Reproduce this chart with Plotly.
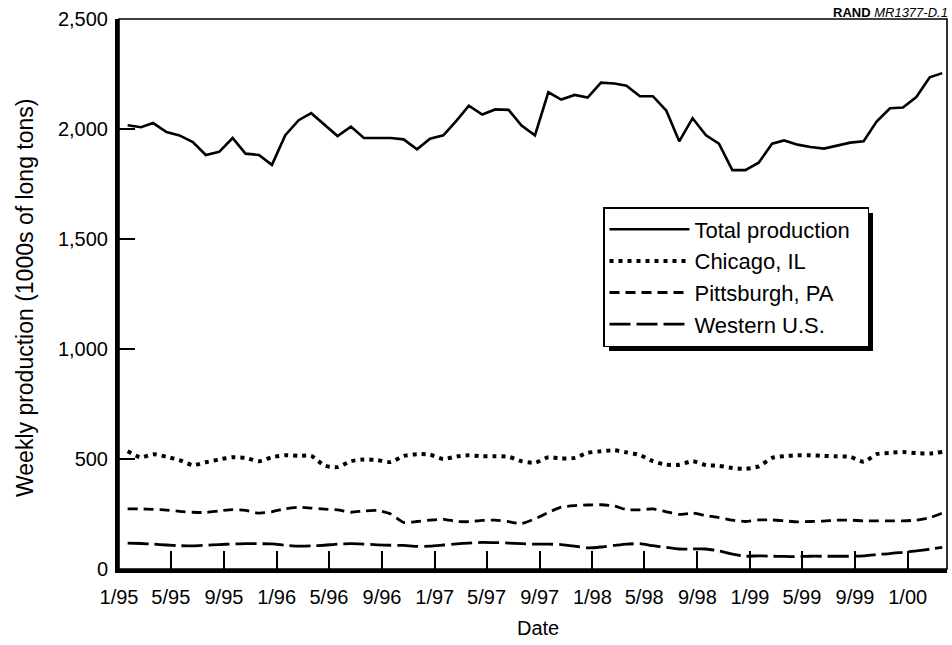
import plotly.graph_objects as go

# ---- data (weekly production, 1000s of long tons), monthly readings 1/95 .. 3/00
months = [f"{1995 + i // 12}-{i % 12 + 1:02d}-21" for i in range(63)]

total_production = [2017, 2008, 2027, 1986, 1971, 1941, 1882, 1896, 1959, 1888,
                    1882, 1837, 1972, 2040, 2072, 2020, 1968, 2011, 1959, 1959,
                    1959, 1953, 1908, 1956, 1971, 2039, 2106, 2066, 2089, 2087,
                    2016, 1971, 2167, 2134, 2155, 2143, 2211, 2207, 2197, 2149,
                    2149, 2084, 1944, 2049, 1971, 1933, 1813, 1813, 1847, 1933,
                    1948, 1929, 1918, 1911, 1923, 1938, 1944, 2034, 2094, 2098,
                    2145, 2235, 2254]

chicago = [535, 507, 522, 510, 495, 472, 485, 498, 508, 505,
           490, 508, 517, 514, 514, 470, 463, 490, 498, 495,
           486, 514, 522, 520, 500, 512, 517, 512, 513, 510,
           490, 483, 508, 502, 505, 528, 535, 540, 530, 518,
           490, 474, 474, 490, 472, 469, 459, 455, 466, 505,
           513, 517, 517, 514, 512, 510, 487, 522, 528, 532,
           527, 525, 532]

pittsburgh = [273, 273, 271, 268, 262, 258, 257, 264, 270, 266,
              254, 260, 274, 281, 277, 272, 269, 258, 264, 266,
              250, 212, 216, 222, 226, 216, 215, 221, 222, 215,
              207, 228, 257, 281, 288, 291, 292, 286, 270, 269,
              273, 260, 248, 254, 243, 234, 222, 216, 223, 223,
              219, 214, 216, 218, 222, 222, 219, 219, 219, 219,
              222, 233, 254]

western = [118, 116, 113, 109, 106, 105, 108, 111, 114, 115,
           115, 114, 108, 104, 105, 108, 113, 115, 113, 110,
           108, 107, 103, 104, 109, 114, 118, 121, 120, 118,
           115, 113, 113, 111, 104, 96, 100, 107, 113, 115,
           106, 98, 91, 91, 91, 82, 68, 58, 60, 58,
           57, 56, 58, 58, 58, 58, 60, 66, 70, 76,
           82, 90, 98]

y_ticks = [0, 500, 1000, 1500, 2000, 2500]
y_tick_labels = ["0", "500", "1,000", "1,500", "2,000", "2,500"]

FONT = "Liberation Sans, Arial, Helvetica, sans-serif"
NB = "\u00a0"

fig = go.Figure()
fig.add_trace(go.Scatter(x=months, y=total_production, name="Total production" + NB * 2,
                         mode="lines", line=dict(color="black", width=2.6)))
fig.add_trace(go.Scatter(x=months, y=chicago, name="Chicago, IL", mode="lines",
                         line=dict(color="black", width=4, dash="4px,5px", shape="spline", smoothing=0.6)))
fig.add_trace(go.Scatter(x=months, y=pittsburgh, name="Pittsburgh, PA", mode="lines",
                         line=dict(color="black", width=2.8, dash="10px,6px", shape="spline", smoothing=0.6)))
fig.add_trace(go.Scatter(x=months, y=western, name="Western U.S.", mode="lines",
                         line=dict(color="black", width=2.8, dash="21px,6px", shape="spline", smoothing=0.6)))

W, H = 952, 645
L, T = 119, 19
R = W - 947
B = H - 569
pw = W - L - R
ph = H - T - B


def px2paper_x(px):
    return (px - L) / pw


def px2paper_y(py):
    return (H - B - py) / ph


fig.update_layout(
    width=W, height=H,
    margin=dict(l=L, r=R, t=T, b=B),
    paper_bgcolor="white", plot_bgcolor="white",
    font=dict(family=FONT, color="black", size=20),
    showlegend=True,
    legend=dict(x=px2paper_x(603), y=px2paper_y(207), xanchor="left", yanchor="top",
                bgcolor="white", bordercolor="black", borderwidth=1.5,
                font=dict(family=FONT, size=22, color="black"),
                itemwidth=80, tracegroupgap=0),
    xaxis=dict(type="date", range=["1995-01-01", "2000-04-01"],
               tick0="1995-01-01", dtick="M4", tickformat="%-m/%y",
               ticks="inside", ticklen=18, tickwidth=1.6, tickcolor="black",
               showline=True, linewidth=4, linecolor="black",
               showgrid=False, zeroline=False, ticklabelstandoff=7,
               tickfont=dict(size=20, family=FONT)),
    yaxis=dict(range=[0, 2500], tickvals=y_ticks, ticktext=y_tick_labels,
               ticks="inside", ticklen=16, tickwidth=1.6, tickcolor="black",
               showline=True, linewidth=4, linecolor="black",
               showgrid=False, zeroline=False, ticklabelstandoff=3,
               tickfont=dict(size=20, family=FONT)),
    shapes=[
        dict(type="rect", xref="paper", yref="paper", x0=0, x1=1, y0=0, y1=1,
             line=dict(color="black", width=1.6), fillcolor="rgba(0,0,0,0)", layer="above"),
        dict(type="rect", xref="paper", yref="paper",
             x0=px2paper_x(609), x1=px2paper_x(873), y0=px2paper_y(351), y1=px2paper_y(213),
             line=dict(width=0), fillcolor="black", layer="above"),
    ],
    annotations=[
        dict(text="Weekly production (1000s of long tons)", textangle=-90,
             xref="paper", yref="paper", x=px2paper_x(25), y=px2paper_y(298),
             xanchor="center", yanchor="middle", showarrow=False,
             font=dict(size=23, family=FONT)),
        dict(text="Date", xref="paper", yref="paper", x=px2paper_x(538), y=px2paper_y(628),
             xanchor="center", yanchor="middle", showarrow=False,
             font=dict(size=20, family=FONT)),
        dict(text="<b>RAND</b> <i>MR1377-D.1</i>", xref="paper", yref="paper",
             x=px2paper_x(950), y=px2paper_y(13), xanchor="right", yanchor="middle",
             showarrow=False, font=dict(size=13, family=FONT)),
    ],
)

fig.write_html("out.html",
               config={"displayModeBar": False},
               post_script="document.body.style.margin='0';document.body.style.overflow='hidden';")
